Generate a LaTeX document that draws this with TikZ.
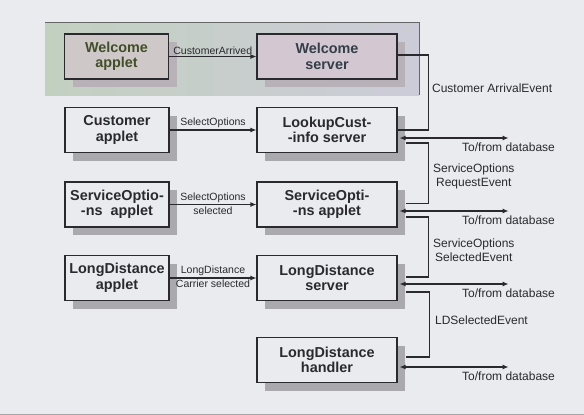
\documentclass[tikz,border=0pt]{standalone}
\usepackage{fontspec}
\setmainfont{Liberation Sans}
\usepackage{tikz}
\usetikzlibrary{arrows.meta,calc,shadows}
\definecolor{paper}{RGB}{233,235,239}
\definecolor{boxshade}{RGB}{170,170,174}
\definecolor{inkgray}{RGB}{42,42,46}
\definecolor{bandleft}{RGB}{194,208,192}
\definecolor{bandmid}{RGB}{216,196,206}
\definecolor{bandright}{RGB}{204,204,216}
\definecolor{welcomeink}{RGB}{66,78,42}
\definecolor{serverink}{RGB}{52,62,72}

\begin{document}
\begin{tikzpicture}[x=1pt, y=-1pt, line join=miter,
    unit/.style={draw=inkgray, line width=1.1pt, fill=paper, text=inkgray,
      font=\fontsize{14.4}{15.5}\selectfont\bfseries, align=center,
      inner sep=0pt, minimum height=45pt,
      drop shadow={shadow xshift=8pt, shadow yshift=-8pt,
        fill=boxshade, opacity=1}},
    applet/.style={unit, minimum width=104pt},
    server/.style={unit, minimum width=140pt},
    event/.style={draw=inkgray, line width=1.1pt},
    tip/.style={-{Latex[length=6pt,width=5pt]}},
    both/.style={{Latex[length=6pt,width=5pt]}-{Latex[length=6pt,width=5pt]}},
    msg/.style={font=\fontsize{10.5}{12}\selectfont, text=inkgray,
      inner sep=1.5pt},
    note/.style={font=\fontsize{12}{14}\selectfont, text=inkgray,
      align=center, inner sep=0pt}]

  % Paper and the coloured band behind the welcome step.
  \fill[paper] (0,0) rectangle (584,415);
  \useasboundingbox (0,0) rectangle (584,415);
  \draw[gray!70, line width=1.2pt] (0,414.4) -- (584,414.4);
  \shade[left color=bandleft, middle color=bandmid, right color=bandright]
    (45,22) rectangle (419,95);
  \draw[gray!80!black, line width=.6pt] (45,22) -- (419,22) -- (419,95);

  % Applets on the left, servers and handler on the right.
  \node[applet, fill=bandmid!55!bandleft, text=welcomeink,
    drop shadow={shadow xshift=8pt, shadow yshift=-8pt,
      fill=boxshade!70!bandmid, opacity=1}]
    (wapplet) at (116.5,56.5) {Welcome\\applet};
  \node[server, fill=bandmid!55!bandright, text=serverink,
    drop shadow={shadow xshift=8pt, shadow yshift=-8pt,
      fill=boxshade!70!bandmid, opacity=1}]
    (wserver) at (327,56.5) {Welcome\\server};
  \node[applet] (capplet)   at (117,130)   {Customer\\applet};
  \node[server] (lookup)    at (327,130)   {LookupCust-\\-info server};
  \node[applet] (soapplet)  at (117,204.5) {ServiceOptio-\\-ns\ \ applet};
  \node[server] (soserver)  at (327,204.5) {ServiceOpti-\\-ns applet};
  \node[applet] (ldapplet)  at (117,278)   {LongDistance\\applet};
  \node[server] (ldserver)  at (327,278)   {LongDistance\\server};
  \node[server] (ldhandler) at (327,360)   {LongDistance\\handler};

  % Messages from each applet to its server.
  \draw[event, tip] (wapplet) -- node[msg, above] {CustomerArrived} (wserver);
  \draw[event, tip] (capplet) -- node[msg, above] {SelectOptions} (lookup);
  \draw[event, tip] (soapplet) -- node[msg, above] {SelectOptions}
    node[msg, below] {selected} (soserver);
  \draw[event, tip] (ldapplet) -- node[msg, above] {LongDistance}
    node[msg, below] {Carrier selected} (ldserver);

  % Events passed down the server chain.
  \draw[event] ($(wserver.east)+(0,-1.5)$) -- ++(31,0)
    |- node[note, pos=.22, right=3pt] {Customer ArrivalEvent} (lookup.east);
  \draw[event] ($(lookup.east)+(8,13)$) -- ++(23,0)
    |- node[note, pos=.28, right=4pt] {ServiceOptions\\RequestEvent}
    ($(soserver.east)+(8,-1)$);
  \draw[event] ($(soserver.east)+(8,12.5)$) -- ++(23,0)
    |- node[note, pos=.28, right=4pt] {ServiceOptions\\SelectedEvent}
    ($(ldserver.east)+(8,-1)$);
  \draw[event] ($(ldserver.east)+(8,14)$) -- ++(24,0)
    |- node[note, pos=.22, right=5pt] {LDSelectedEvent}
    ($(ldhandler.east)+(8,-3)$);

  % Database traffic.
  \foreach \srv/\dy in {lookup/8, soserver/6.5, ldserver/6, ldhandler/7}{
    \draw[event, both] ($(\srv.east)+(2,\dy)$) -- ++(109,0)
      node[note, below=4pt] {To/from database};
  }
\end{tikzpicture}
\end{document}
